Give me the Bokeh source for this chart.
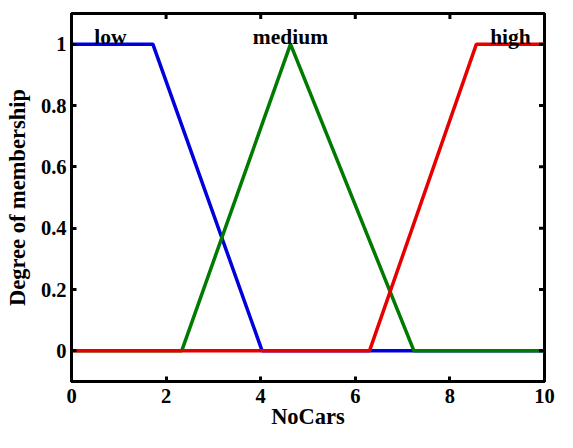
import math
from bokeh.plotting import figure
from bokeh.models import FixedTicker, Range1d
from bokeh.core.properties import value
from bokeh.embed import file_html
from bokeh.resources import INLINE

# membership functions of NoCars
low_x = [0, 1.72, 4.03, 10]
low_y = [1, 1, 0, 0]
medium_x = [0, 2.33, 4.63, 7.24, 10]
medium_y = [0, 0, 1, 0, 0]
high_x = [0, 6.3, 8.56, 10]
high_y = [0, 0, 1, 1]

mf_names = ["low", "medium", "high"]
label_x = [0.82, 4.63, 9.28]
label_y = [1.024, 1.024, 1.024]

x_ticks = [0, 2, 4, 6, 8, 10]
x_tick_labels = ["0", "2", "4", "6", "8", "10"]
y_ticks = [0, 0.2, 0.4, 0.6, 0.8, 1]
y_tick_labels = ["0", "0.2", "0.4", "0.6", "0.8", "1"]

FONT = "Liberation Serif"

xr = Range1d(0, 10)
yr = Range1d(-0.1, 1.1)
p = figure(width=557, height=432, output_backend="svg", toolbar_location=None,
           x_range=xr, y_range=yr,
           min_border_left=71, min_border_right=13, min_border_top=13, min_border_bottom=51)
p.grid.visible = False
p.outline_line_color = "black"
p.outline_line_width = 3
p.outline_line_alpha = 1
p.background_fill_color = "white"
p.border_fill_color = "white"

p.line(low_x, low_y, line_color="#0000dd", line_width=3.5)
p.line(medium_x, medium_y, line_color="#007a00", line_width=3.5)
p.line(high_x, high_y, line_color="#e60000", line_width=3.5)

p.text(x=label_x, y=label_y, text=mf_names, text_font=value(FONT),
       text_font_style="bold", text_font_size="21.5px", text_align="center",
       text_baseline="alphabetic", text_color="black")

# inward ticks on top and right sides of the box (clipped to the frame)
p.scatter(x=x_ticks, y=[yr.end] * len(x_ticks), marker="dash", angle=math.pi / 2,
          size=11, line_color="black", line_width=3)
p.scatter(x=[xr.end] * len(y_ticks), y=y_ticks, marker="dash",
          size=11, line_color="black", line_width=3)

def style(ax, ticks, labels):
    ax.ticker = FixedTicker(ticks=ticks)
    ax.major_label_overrides = {t: l for t, l in zip(ticks, labels)}
    ax.axis_line_width = 3
    ax.axis_line_color = "black"
    ax.major_tick_in = 5
    ax.major_tick_out = 0
    ax.major_tick_line_width = 3
    ax.minor_tick_line_color = None
    ax.major_label_text_font = FONT
    ax.major_label_text_font_style = "bold"
    ax.major_label_text_font_size = "20.5px"
    ax.major_label_text_color = "black"
    ax.axis_label_text_font = FONT
    ax.axis_label_text_font_style = "bold"
    ax.axis_label_text_font_size = "22.5px"
    ax.axis_label_text_color = "black"

xa = p.xaxis[0]
style(xa, x_ticks, x_tick_labels)
xa.axis_label = "NoCars"
xa.major_label_standoff = 7
xa.axis_label_standoff = -2

ya = p.yaxis[0]
style(ya, y_ticks, y_tick_labels)
ya.axis_label = "Degree of membership"
ya.major_label_standoff = 5
ya.axis_label_standoff = 8

open("out.html", "w").write(file_html(p, INLINE))
